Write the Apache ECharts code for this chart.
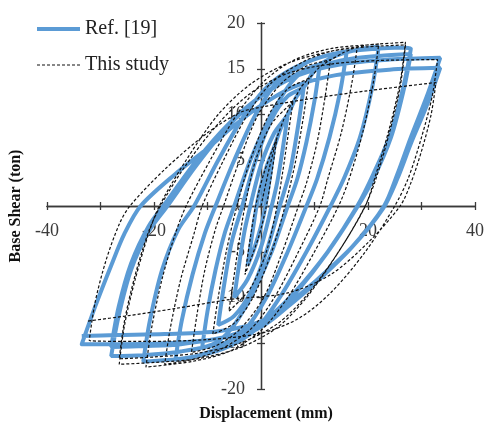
<!DOCTYPE html>
<html>
<head>
<meta charset="utf-8">
<script src="https://cdn.jsdelivr.net/npm/echarts@6/dist/echarts.min.js"></script>
<style>
html,body{margin:0;padding:0;background:#fff;}
#chart{width:487px;height:424px;}
</style>
</head>
<body>
<div id="chart"></div>
<script>
// ---- Data (displacement mm, base shear ton) ----
var seriesNames = ['Ref. [19]', 'This study'];
var xTickLabels = [-40, -20, 20, 40];
var yTickLabels = [-20, -15, -10, -5, 0, 5, 10, 15, 20];

var refLoop1 = [[0,0],[1.2,3.5],[2.5,6.5],[1.5,2.5],[0.5,-1],[-1,-4.2],[-2.5,-6.5],[-1.5,-2.5],[-0.5,1],[1,4.2],[2.5,6.5],[3.7,8.5]];
var refLoop2 = [[5,10],[4,6],[3,2.5],[2,0],[0,-4.5],[-2.5,-8],[-5,-10],[-4,-6],[-3,-2.5],[-2,0],[0,4.5],[2.5,8],[5,10],[6.5,11.8]];
var refLoop3 = [[8,13],[7,9],[5.5,4],[3.5,0],[1,-5],[-2,-9.5],[-5,-12],[-8,-13],[-7,-9],[-5.5,-4],[-3.5,0],[-1,5],[2,9.5],[5,12],[8,13],[9.5,14.4]];
var refLoop4 = [[11,15.5],[10,11.5],[8.5,7],[6.8,3],[5,0],[2,-5],[-1.5,-9.5],[-5,-13],[-8,-14.8],[-11,-15.5],[-10,-11.5],[-8.5,-7],[-6.8,-3],[-5,0],[-2,5],[1.5,9.5],[5,13],[8,14.8],[11,15.5],[13.5,16.3]];
var refLoop5 = [[16,16.8],[14.8,12.5],[12.8,7.5],[10.5,3],[8.5,0],[5,-5],[1,-10],[-3,-13.5],[-8,-15.5],[-12,-16.4],[-16,-16.8],[-14.8,-12.5],[-12.8,-7.5],[-10.5,-3],[-8.5,0],[-5,5],[-1,10],[3,13.5],[8,15.5],[12,16.4],[16,16.8],[19,17.2]];
var refLoop6 = [[22,17.4],[20.8,13],[18.5,7.5],[15.5,3],[13,0],[8.5,-5],[3.5,-10],[-1,-13.5],[-7,-15.6],[-14,-16.6],[-22,-17],[-20.8,-12.6],[-18.5,-7],[-15.5,-2.6],[-12.5,0],[-8,5],[-3,10],[2,13.5],[8,15.6],[15,16.8],[22,17.2],[25,17.3]];
var refLoop7 = [[28,17.2],[26.6,13],[24.3,8],[21,3.5],[18,0],[12.5,-5],[6.5,-9.5],[1,-12.8],[-6,-14.8],[-15,-15.9],[-22,-16.3],[-28,-16.4],[-26.6,-12],[-24.3,-7],[-21,-2.8],[-17.5,0],[-12,4.5],[-6,8.8],[0,12],[7,14.5],[15,15.9],[22,16.4],[28,16.6],[26.6,12.5],[24.3,7.5],[21,3],[17.8,-0.3],[12.5,-5],[6.5,-9.3],[1,-12.3],[-6,-14.2],[-15,-15.1],[-22,-15.3],[-28,-15.4],[-26.6,-11],[-24.3,-6.3],[-21,-2.2],[-17.5,0.6],[-12,5],[-6,9],[0,12],[7,14.3],[15,15.5],[24,16]];
var refLoop8 = [[33.5,16.2],[31,12],[28,7.5],[25.5,3.5],[23,0],[17,-4.5],[10,-8.5],[5,-11],[0,-13.2],[-8,-14.5],[-18,-15],[-27,-15.1],[-33.5,-15.1],[-31,-11],[-28,-6.5],[-25.5,-3],[-22.5,0],[-16,3.5],[-10,6.3],[-5,8.8],[0,11],[6,13],[14,14.3],[24,14.9],[33.5,15.1],[31,11],[28,6.8],[25.5,3],[22.8,-0.3],[17,-4.5],[10,-8.3],[5,-10.7],[0,-12.6],[-8,-13.7],[-18,-14],[-27,-14.1],[-33.5,-14.2]];

var studyLoop1 = [[0,0],[1.5,4],[3,7.5],[2,3.5],[1,0],[-0.5,-3.5],[-3,-7.5],[-2,-3.5],[-1,0],[0.5,3.5],[3,7.5],[4.5,9.8]];
var studyLoop2 = [[6,11.5],[5,7.5],[4,3.5],[3,0],[1,-5],[-2,-9],[-6,-11.5],[-5,-7.5],[-4,-3.5],[-3,0],[-1,5],[2,9],[6,11.5],[7.5,13]];
var studyLoop3 = [[9,14],[8,10],[6.5,5],[4.5,0],[2,-5],[-1.5,-10],[-5,-12.8],[-9,-14],[-8,-10],[-6.5,-5],[-4.5,0],[-2,5],[1.5,10],[5,12.8],[9,14],[11,15.2]];
var studyLoop4 = [[13,16],[12,12],[10.5,7],[8.5,2.5],[7,0],[4,-5],[0.5,-10],[-4,-13.5],[-8.5,-15.3],[-13,-16],[-12,-12],[-10.5,-7],[-8.5,-2.5],[-7,0],[-4,5],[-0.5,10],[4,13.5],[8.5,15.3],[13,16],[15.5,16.8]];
var studyLoop5 = [[18,17.4],[17,13.5],[15,8],[12.5,3],[11,0],[7,-5],[2.5,-10],[-2,-13.5],[-8,-15.8],[-13,-16.8],[-18,-17.3],[-17,-13.5],[-15,-8],[-12.5,-3],[-11,0],[-7,5],[-2.5,10],[2,13.5],[8,15.8],[13,16.9],[18,17.4],[20,17.6]];
var studyLoop6 = [[22,17.7],[21,13.5],[19,8],[16.5,3],[14.5,0],[10,-5],[5,-10],[0,-13.6],[-6,-15.9],[-13,-17],[-21.5,-17.6],[-20.5,-13.5],[-18.5,-8],[-16,-3],[-14,0],[-9.5,5],[-4.5,10],[0.5,13.6],[6,15.9],[13,17.2],[22,17.7],[24.5,17.8]];
var studyLoop7 = [[27,17.9],[26,13.5],[24,8.5],[21.5,3.5],[19.5,0],[14.5,-5],[8.5,-10],[3,-13.3],[-4,-15.5],[-12,-16.7],[-20,-17.1],[-26.5,-17.3],[-25.5,-13],[-23.5,-8],[-21,-3],[-19,0],[-14,5],[-8,10],[-2,13.3],[5,15.6],[13,16.9],[20,17.4],[27,17.6],[26,13],[24,8],[21.5,3],[19.3,-0.2],[14.5,-5],[8.5,-9.8],[3,-12.9],[-4,-15],[-12,-16.1],[-20,-16.5],[-26.5,-16.7],[-25.5,-12.5],[-23.5,-7.5],[-21,-2.8],[-18.8,0],[-14,4.5],[-8,9],[-2,12.3],[5,14.5],[13,15.5],[22,15.9]];
var studyLoop8 = [[33,16],[32,12],[30,7.5],[27.5,3],[25,0],[19.5,-5],[13,-9.5],[7,-12.3],[0,-13.9],[-10,-14.6],[-22,-14.8],[-32.1,-14.7],[-31,-10.5],[-29,-6],[-26.5,-2],[-24.5,0],[-18,4],[-10,8],[-4,10.2],[0,10.8],[10,11.8],[20,12.6],[32.7,13.5],[31.8,10],[30,6],[28,2.5],[26,0],[20,-4],[13,-7.5],[5,-9.5],[-5.6,-10.2],[-16,-11.2],[-25,-12],[-32.7,-12.6]];

var refData = [].concat(refLoop1, refLoop2, refLoop3, refLoop4, refLoop5, refLoop6, refLoop7, refLoop8);
var studyData = [].concat(studyLoop1, studyLoop2, studyLoop3, studyLoop4, studyLoop5, studyLoop6, studyLoop7, studyLoop8);

// ---- Layout ----
var W = 487, H = 424;
var GRID = {left: 47, right: 12, top: 23, bottom: 35};
var gridW = W - GRID.left - GRID.right;   // 428
var gridH = H - GRID.top - GRID.bottom;   // 366
// The axes cross at the origin, which sits in the middle of the symmetric ranges
var xAxisShift = gridH / 2;   // from bottom/top edge to y = 0
var yAxisShift = gridW / 2;   // from left/right edge to x = 0

var FONT = "'Liberation Serif', 'Times New Roman', serif";
var AXIS_COLOR = '#3a3a3a';
var chart = echarts.init(document.getElementById('chart'), null, {renderer: 'canvas'});

function xLabelFmt(v) { return xTickLabels.indexOf(v) >= 0 ? String(v) : ''; }
function yLabelFmt(v) { return yTickLabels.indexOf(v) >= 0 ? String(v) : ''; }

var hiddenSymbol = {color: 'rgba(0,0,0,0)', opacity: 0, borderWidth: 0};
var axisLineStyle = {color: AXIS_COLOR, width: 1.3};

var option = {
  animation: false,
  backgroundColor: '#ffffff',
  grid: {left: GRID.left, right: GRID.right, top: GRID.top, bottom: GRID.bottom, containLabel: false, outerBoundsMode: 'none'},
  legend: {
    orient: 'vertical',
    left: 35, top: 19, padding: 0,
    itemWidth: 43, itemHeight: 20, itemGap: 16,
    textStyle: {fontFamily: FONT, fontSize: 20, color: '#222'},
    data: [
      {name: seriesNames[0], lineStyle: {width: 4}, itemStyle: hiddenSymbol},
      {name: seriesNames[1], lineStyle: {width: 1.2}, itemStyle: hiddenSymbol}
    ]
  },
  xAxis: [{
    type: 'value', min: -40, max: 40, interval: 10,
    position: 'bottom', offset: -xAxisShift,
    name: 'Displacement (mm)', nameLocation: 'middle', nameGap: 200,
    nameTextStyle: {fontFamily: FONT, fontSize: 16, fontWeight: 'bold', color: '#111', padding: [0, 0, 0, 10]},
    axisLine: {show: true, onZero: false, lineStyle: axisLineStyle},
    axisTick: {show: true, length: 4, lineStyle: axisLineStyle},
    axisLabel: {show: true, margin: 16, formatter: xLabelFmt, fontFamily: FONT, fontSize: 18, color: '#3a3a3a'},
    splitLine: {show: false}
  }, {
    type: 'value', min: -40, max: 40, interval: 10,
    position: 'top', offset: -xAxisShift,
    axisLine: {show: true, onZero: false, lineStyle: axisLineStyle},
    axisTick: {show: true, length: 4, lineStyle: axisLineStyle},
    axisLabel: {show: false},
    splitLine: {show: false}
  }],
  yAxis: [{
    type: 'value', min: -20, max: 20, interval: 5,
    position: 'left', offset: -yAxisShift,
    name: 'Base Shear (ton)', nameLocation: 'middle', nameGap: 237,
    nameTextStyle: {fontFamily: FONT, fontSize: 16, fontWeight: 'bold', color: '#111'},
    axisLine: {show: true, onZero: false, lineStyle: axisLineStyle},
    axisTick: {show: true, length: 4, lineStyle: axisLineStyle},
    axisLabel: {show: true, margin: 16, formatter: yLabelFmt, fontFamily: FONT, fontSize: 18, color: '#3a3a3a'},
    splitLine: {show: false}
  }, {
    type: 'value', min: -20, max: 20, interval: 5,
    position: 'right', offset: -yAxisShift,
    axisLine: {show: true, onZero: false, lineStyle: axisLineStyle},
    axisTick: {show: true, length: 4, lineStyle: axisLineStyle},
    axisLabel: {show: false},
    splitLine: {show: false}
  }],
  series: [{
    name: seriesNames[0],
    type: 'line',
    xAxisIndex: 0, yAxisIndex: 0,
    data: refData,
    symbol: 'none', showSymbol: false,
    smooth: 0.3,
    lineStyle: {color: '#5B9BD5', width: 4},
    itemStyle: {color: '#5B9BD5'},
    z: 2
  }, {
    name: seriesNames[1],
    type: 'line',
    xAxisIndex: 0, yAxisIndex: 0,
    data: studyData,
    symbol: 'none', showSymbol: false,
    smooth: 0.3,
    lineStyle: {color: '#111', width: 1.2, type: [3, 2]},
    itemStyle: {color: '#111'},
    z: 3
  }]
};
chart.setOption(option);
</script>
</body>
</html>
